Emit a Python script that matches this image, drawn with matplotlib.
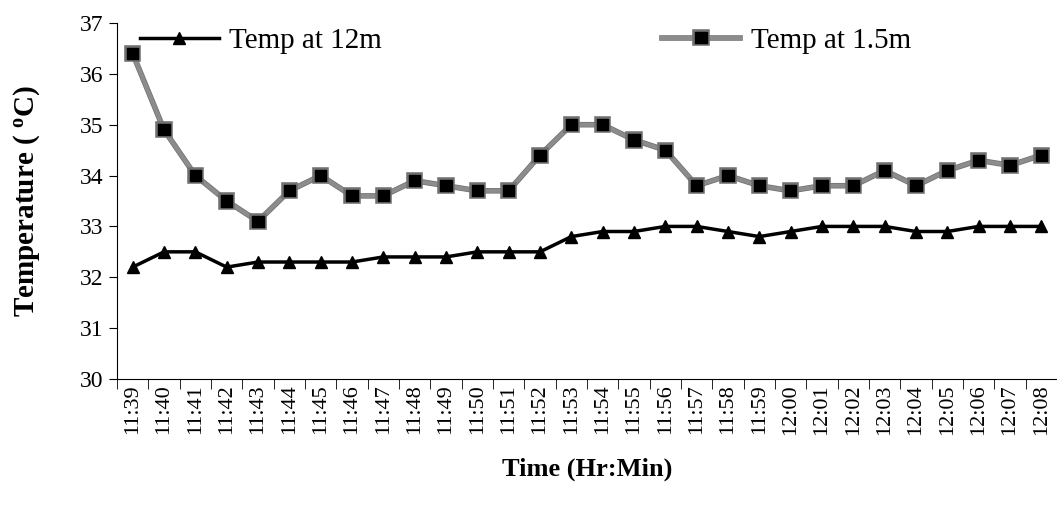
import matplotlib
matplotlib.use("Agg")
import matplotlib.pyplot as plt
import matplotlib.patheffects as pe
import numpy as np

times = ["11:39", "11:40", "11:41", "11:42", "11:43", "11:44", "11:45", "11:46",
         "11:47", "11:48", "11:49", "11:50", "11:51", "11:52", "11:53", "11:54",
         "11:55", "11:56", "11:57", "11:58", "11:59", "12:00", "12:01", "12:02",
         "12:03", "12:04", "12:05", "12:06", "12:07", "12:08"]
temp_12m = [32.2, 32.5, 32.5, 32.2, 32.3, 32.3, 32.3, 32.3, 32.4, 32.4,
            32.4, 32.5, 32.5, 32.5, 32.8, 32.9, 32.9, 33.0, 33.0, 32.9,
            32.8, 32.9, 33.0, 33.0, 33.0, 32.9, 32.9, 33.0, 33.0, 33.0]
temp_1_5m = [36.4, 34.9, 34.0, 33.5, 33.1, 33.7, 34.0, 33.6, 33.6, 33.9,
             33.8, 33.7, 33.7, 34.4, 35.0, 35.0, 34.7, 34.5, 33.8, 34.0,
             33.8, 33.7, 33.8, 33.8, 34.1, 33.8, 34.1, 34.3, 34.2, 34.4]

plt.rcParams['font.family'] = ['Liberation Serif', 'DejaVu Serif']
plt.rcParams['mathtext.default'] = 'regular'

fig = plt.figure(figsize=(10.57, 5.05), dpi=100)
ax = fig.add_axes([0.1107, 0.2495, 0.8893, 0.705])

x = np.arange(len(times))
ax.plot(x, temp_12m, color='black', lw=2.5, marker='^', ms=9,
        label='Temp at 12m')
ax.plot(x, temp_1_5m, color='#8c8c8c', lw=3, marker='s', ms=8,
        mfc='black', mec='black', label='Temp at 1.5m',
        path_effects=[pe.Stroke(linewidth=4, foreground='#707070'), pe.Normal()])

ax.set_xlim(-0.5, len(times) - 0.5)
ax.set_ylim(30, 37)
ax.set_yticks(range(30, 38))
ax.set_xticks(x)
ax.set_xticklabels(times, rotation=90, fontsize=16)
ax.set_xticks(np.arange(-0.5, len(times), 1), minor=True)
ax.tick_params(axis='x', which='major', length=0, pad=4)
ax.tick_params(axis='x', which='minor', length=7, direction='out')
ax.tick_params(axis='y', labelsize=17, length=6, direction='out', pad=4)

for s in ['top', 'right']:
    ax.spines[s].set_visible(False)

ax.set_xlabel('Time (Hr:Min)', fontsize=19, fontweight='bold')
ax.xaxis.set_label_coords(0.5, -0.22)
ax.set_ylabel(r'Temperature ( $^{o}$C)', fontsize=21, fontweight='bold')
ax.yaxis.set_label_coords(-0.08, 0.5)

ax.legend(loc='upper left', bbox_to_anchor=(0.012, 1.02), ncol=2, frameon=False,
          fontsize=21, handlelength=2.7, columnspacing=9.6, handletextpad=0.35,
          borderaxespad=0)

fig.savefig('out.png', dpi=100)
